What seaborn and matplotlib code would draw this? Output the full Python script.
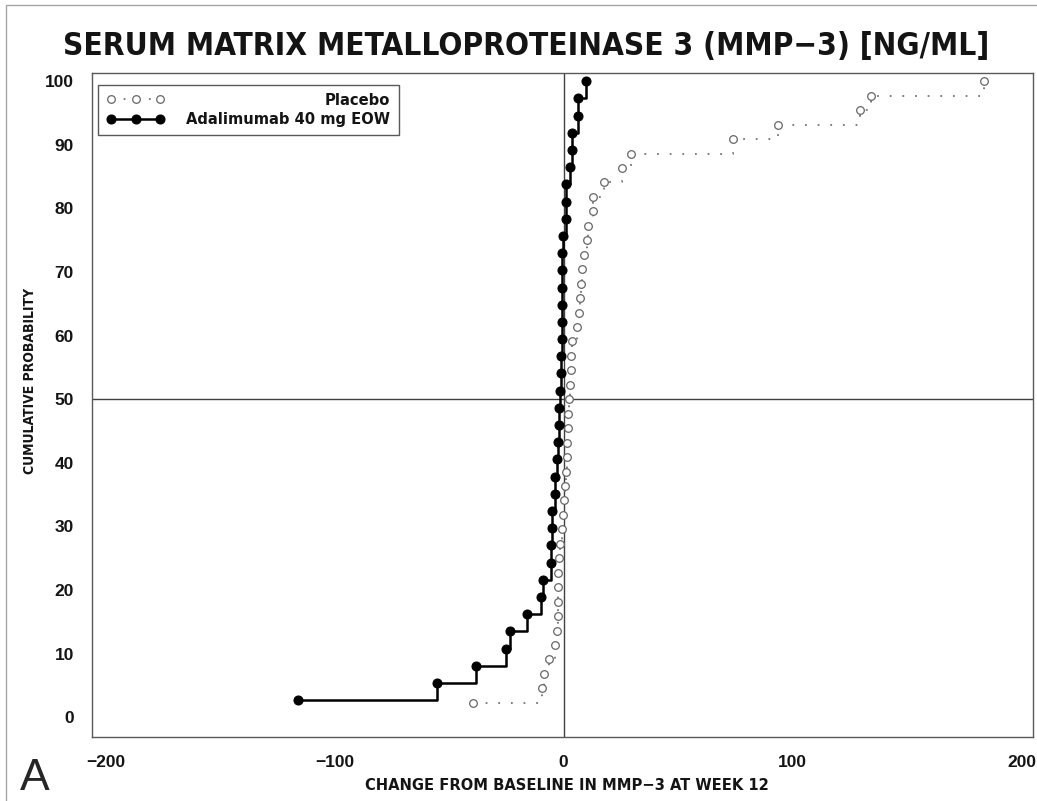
import numpy as np
import pandas as pd
import matplotlib
matplotlib.use("Agg")
import matplotlib.pyplot as plt
import seaborn as sns
from matplotlib import font_manager as fm
from matplotlib.patches import Rectangle

# change from baseline in MMP-3 at week 12, one value per patient (sorted)
placebo = [-39.4, -9.6, -8.6, -6.4, -3.9, -2.8, -2.5, -2.5, -2.5, -2.3,
           -2.0, -1.5, -0.6, -0.3, 0.1, 0.6, 1.2, 1.6, 1.6, 1.9,
           2.0, 2.2, 2.6, 3.1, 3.4, 3.8, 5.7, 6.7, 7.1, 7.4,
           7.9, 8.9, 10.0, 10.6, 13.0, 13.0, 17.6, 25.3, 29.3, 73.9,
           93.5, 129.6, 134.2, 183.8]
adalimumab = [-116.2, -55.5, -38.4, -25.3, -23.4, -15.9, -10.0, -8.9, -5.5, -5.4,
              -4.9, -4.9, -3.9, -3.9, -3.1, -2.3, -2.1, -2.1, -1.6, -1.0,
              -1.0, -0.9, -0.9, -0.6, -0.6, -0.6, -0.6, -0.1, 0.9, 0.9,
              0.9, 2.6, 3.8, 3.8, 6.4, 6.4, 9.6]
groups = ["Placebo", "Adalimumab 40 mg EOW"]
x_ticks = [-200, -100, 0, 100, 200]
y_ticks = list(range(0, 101, 10))

# empirical cumulative probability (%) within each arm
frames = []
for name, vals in zip(groups, [placebo, adalimumab]):
    d = pd.DataFrame({"change": vals, "group": name})
    d["cum"] = d["change"].rank(method="first") / len(d) * 100
    frames.append(d.sort_values("cum"))
df = pd.concat(frames, ignore_index=True)

sns.set_style("white")
plt.rcParams["font.family"] = ["Liberation Sans", "DejaVu Sans"]
plt.rcParams["text.color"] = "0.08"
plt.rcParams["xtick.color"] = "0.35"
plt.rcParams["ytick.color"] = "0.35"
plt.rcParams["xtick.labelcolor"] = "0.08"
plt.rcParams["ytick.labelcolor"] = "0.08"


def condensed_font(bold=True):
    # look for an installed condensed / narrow sans face
    best = None
    for f in fm.fontManager.ttflist:
        nm = f.name.lower()
        path = f.fname.lower()
        cond = (str(f.stretch) in ("condensed", "semi-condensed", "extra-condensed")
                or "narrow" in nm or "condensed" in nm
                or "condensed" in path or "narrow" in path)
        if not cond or "mono" in nm or ("serif" in nm and "sans" not in nm):
            continue
        if "italic" in path or "oblique" in path or f.style != "normal":
            continue
        w = f.weight if isinstance(f.weight, (int, float)) else (700 if "bold" in str(f.weight) else 400)
        score = -abs(w - (700 if bold else 400))
        if best is None or score > best[0]:
            best = (score, f.fname)
    if best is None:
        return fm.FontProperties(family="Liberation Sans",
                                 weight="bold" if bold else "normal")
    return fm.FontProperties(fname=best[1])


cond_bold = condensed_font(True)

fig = plt.figure(figsize=(10.37, 8.01), dpi=100)
ax = fig.add_axes([92 / 1037, 64 / 801, 941 / 1037, 664 / 801])

ax.axhline(50, color="0.25", lw=1, zorder=1)
ax.axvline(0, color="0.25", lw=1, zorder=1)

sns.lineplot(data=df[df["group"] == groups[0]], x="change", y="cum",
             estimator=None, sort=False, drawstyle="steps-post",
             color="0.45", lw=1.3, ls=(0, (1, 6)), marker="o", ms=5.5,
             mfc="white", mec="0.4", mew=0.9, label=groups[0], ax=ax, zorder=3)
sns.lineplot(data=df[df["group"] == groups[1]], x="change", y="cum",
             estimator=None, sort=False, drawstyle="steps-post",
             color="black", lw=1.8, marker="o", ms=6.5,
             mfc="black", mec="black", label=groups[1], ax=ax, zorder=4)

ax.set_xlim(-206, 205)
ax.set_ylim(-3.1, 101.3)
ax.set_xticks(x_ticks)
ax.set_xticklabels([str(v).replace("-", "\u2212") for v in x_ticks])
ax.set_yticks(y_ticks)
ax.set_xlabel("")
ax.set_ylabel("")
ax.tick_params(direction="out", length=7, width=1, labelsize=12.5, pad=6)
for lab in ax.get_xticklabels() + ax.get_yticklabels():
    lab.set_fontweight("bold")
for s in ax.spines.values():
    s.set_color("0.35")
    s.set_linewidth(1)

handles, labels = ax.get_legend_handles_labels()
leg_prop = cond_bold.copy()
leg_prop.set_size(11.8)
leg = ax.legend(handles, labels, loc="upper left",
                bbox_to_anchor=(6 / 941, 1 - 12 / 664), borderaxespad=0,
                fancybox=False, edgecolor="0.35", framealpha=1, numpoints=3,
                handlelength=3.6, handletextpad=1.3, borderpad=0.5,
                labelspacing=0.25, prop=leg_prop)
leg.get_frame().set_linewidth(1)

# right-align the legend labels, as in the original
fig.canvas.draw()
renderer = fig.canvas.get_renderer()
widths = [t.get_window_extent(renderer).width for t in leg.get_texts()]
for t, w in zip(leg.get_texts(), widths):
    t.set_position((max(widths) - w, 0))


def fit_text(x, y, s, width_px, **kw):
    t = fig.text(x, y, s, **kw)
    w = t.get_window_extent(renderer).width
    t.set_fontsize(t.get_fontsize() * width_px / w)
    return t


title_prop = cond_bold.copy()
title_prop.set_size(28)
fit_text(0.507, 1 - 55 / 801, "SERUM MATRIX METALLOPROTEINASE 3 (MMP\u22123) [NG/ML]",
         928, ha="center", va="baseline", fontproperties=title_prop)
xl_prop = cond_bold.copy()
xl_prop.set_size(12)
fit_text(0.547, 1 - 785 / 801, "CHANGE FROM BASELINE IN MMP\u22123 AT WEEK 12",
         405, ha="center", va="center", fontproperties=xl_prop)
yl_prop = cond_bold.copy()
yl_prop.set_size(11)
yl = fig.text(30 / 1037, 1 - 381 / 801, "CUMULATIVE PROBABILITY", rotation=90,
              ha="center", va="center", fontproperties=yl_prop)
h = yl.get_window_extent(renderer).height
yl.set_fontsize(yl.get_fontsize() * 186 / h)
fig.text(20 / 1037, 1 - 790 / 801, "A", ha="left", va="baseline",
         fontsize=32, color="0.15")

# thin page frame of the scanned figure
fig.patches.append(Rectangle((6 / 1037, -0.01), 1.0, 1.01 - 5 / 801,
                             transform=fig.transFigure, fill=False,
                             ec="0.65", lw=1))

fig.savefig("out.png", dpi=100)
